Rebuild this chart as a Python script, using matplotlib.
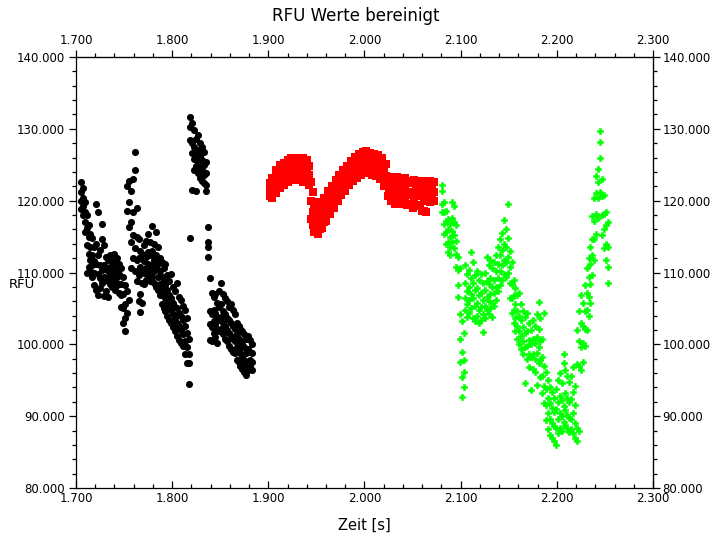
import matplotlib
matplotlib.use("Agg")
import matplotlib.pyplot as plt
from matplotlib.ticker import FixedLocator, FuncFormatter
import numpy as np

# ----- Daten (Zeit in s, RFU in Tausend) -----
# Messreihe 1 (schwarz): vier Werte je Zeitpunkt
black_t = [1705, 1707, 1709, 1711, 1713, 1715, 1717, 1719, 1721, 1723,
           1725, 1727, 1729, 1731, 1733, 1735, 1737, 1739, 1741, 1743,
           1745, 1747, 1749, 1751, 1753, 1755, 1757, 1759, 1761, 1763,
           1765, 1767, 1769, 1771, 1773, 1775, 1777, 1779, 1781, 1783,
           1785, 1787, 1789, 1791, 1793, 1795, 1797, 1799, 1801, 1803,
           1805, 1807, 1809, 1811, 1813, 1815, 1817, 1819, 1821, 1823,
           1825, 1827, 1829, 1831, 1833, 1835, 1837, 1839, 1841, 1843,
           1845, 1847, 1849, 1851, 1853, 1855, 1857, 1859, 1861, 1863,
           1865, 1867, 1869, 1871, 1873, 1875, 1877, 1879, 1881, 1883]
black_a = [122.6, 121.8, 119.8, 118.0, 116.6, 115.4, 114.8, 113.6, 119.6, 118.4,
           113.2, 116.8, 113.8, 112.2, 111.8, 112.4, 111.6, 112.6, 111.4, 112.0,
           111.2, 110.6, 109.4, 108.2, 122.0, 122.8, 121.4, 123.0, 126.8, 119.0,
           114.6, 113.0, 112.6, 113.8, 114.4, 115.4, 114.2, 116.5, 114.0, 115.7,
           113.6, 112.0, 111.4, 110.6, 111.2, 109.6, 108.8, 109.8, 108.0, 107.4,
           108.6, 106.6, 106.2, 105.4, 104.8, 103.6, 100.8, 131.6, 130.8, 129.8,
           128.6, 129.2, 128.0, 127.4, 126.8, 125.4, 116.4, 109.2, 107.2, 106.6,
           107.0, 105.8, 107.4, 108.6, 107.0, 106.4, 106.0, 105.2, 105.6, 104.8,
           104.2, 103.0, 102.6, 102.2, 101.8, 101.4, 100.8, 101.2, 100.6, 100.0]
black_b = [121.2, 120.4, 118.4, 116.2, 115.0, 113.6, 112.4, 111.6, 114.0, 112.4,
           111.0, 114.6, 111.0, 110.6, 110.2, 110.8, 110.4, 111.2, 110.0, 110.6,
           109.8, 108.4, 107.0, 105.6, 118.6, 119.8, 117.0, 118.4, 124.3, 115.0,
           112.0, 110.8, 110.2, 111.6, 112.2, 112.8, 112.4, 113.0, 111.8, 112.4,
           111.2, 110.2, 109.4, 108.8, 108.2, 107.6, 106.8, 106.4, 105.8, 105.2,
           105.0, 104.4, 104.0, 103.4, 102.6, 101.6, 98.6, 130.2, 128.0, 127.4,
           126.6, 127.0, 126.2, 125.6, 125.0, 123.8, 114.3, 104.6, 104.2, 104.8,
           104.4, 103.8, 105.2, 105.6, 104.6, 104.2, 103.6, 103.4, 103.0, 102.6,
           102.2, 101.4, 100.8, 100.4, 100.0, 99.6, 98.8, 99.4, 99.0, 98.8]
black_c = [120.0, 119.3, 117.0, 113.8, 112.6, 111.8, 111.0, 110.0, 111.2, 109.8,
           109.2, 110.4, 109.4, 109.0, 108.8, 109.6, 109.2, 109.8, 108.8, 109.4,
           108.4, 106.8, 105.0, 103.6, 107.4, 116.4, 114.2, 115.2, 113.4, 111.8,
           109.6, 107.0, 108.6, 110.0, 110.6, 111.2, 110.4, 111.0, 110.2, 110.8,
           109.4, 108.4, 107.8, 107.2, 106.4, 105.8, 105.2, 104.8, 104.2, 103.6,
           103.0, 102.6, 102.0, 101.4, 100.4, 99.6, 97.4, 128.4, 126.6, 125.8,
           124.8, 125.4, 124.6, 124.2, 123.6, 122.2, 113.6, 102.8, 102.4, 103.2,
           102.8, 102.2, 103.4, 103.8, 103.0, 102.6, 102.0, 101.6, 101.2, 100.8,
           100.4, 99.6, 99.2, 98.8, 98.4, 97.8, 97.2, 97.6, 97.8, 97.6]
black_d = [118.9, 118.0, 115.6, 109.9, 110.8, 110.2, 109.4, 108.2, 107.6, 106.9,
           107.8, 108.6, 106.7, 107.4, 106.6, 108.4, 108.0, 108.6, 107.6, 108.2,
           107.2, 105.2, 103.0, 101.8, 104.4, 106.2, 110.6, 112.0, 110.2, 108.8,
           106.0, 104.5, 105.8, 108.4, 109.0, 109.6, 108.8, 109.4, 108.6, 108.0,
           107.6, 106.8, 105.6, 105.0, 104.6, 104.0, 103.4, 103.0, 102.4, 101.8,
           101.2, 100.6, 100.2, 99.8, 98.6, 97.4, 94.5, 114.8, 121.5, 124.2,
           121.4, 123.8, 123.2, 122.8, 122.4, 121.3, 112.2, 100.6, 100.4, 101.6,
           101.0, 100.2, 101.8, 102.2, 101.4, 100.8, 100.4, 99.8, 99.4, 99.0,
           98.8, 97.8, 97.6, 97.0, 96.6, 96.2, 95.7, 96.4, 96.8, 96.4]

# Messreihe 2 (rot): drei Werte je Zeitpunkt
red_t = [1902, 1904, 1906, 1908, 1910, 1912, 1914, 1916, 1918, 1920,
         1922, 1924, 1926, 1928, 1930, 1932, 1934, 1936, 1938, 1940,
         1942, 1944, 1946, 1948, 1950, 1952, 1954, 1956, 1958, 1960,
         1962, 1964, 1966, 1968, 1970, 1972, 1974, 1976, 1978, 1980,
         1982, 1984, 1986, 1988, 1990, 1992, 1994, 1996, 1998, 2000,
         2002, 2004, 2006, 2008, 2010, 2012, 2014, 2016, 2018, 2020,
         2022, 2024, 2026, 2028, 2030, 2032, 2034, 2036, 2038, 2040,
         2042, 2044, 2046, 2048, 2050, 2052, 2054, 2056, 2058, 2060,
         2062, 2064, 2066, 2068, 2070, 2072]
red_a = [122.4, 123.2, 123.2, 124.2, 124.0, 124.9, 124.6, 125.3, 125.0, 125.6,
         125.3, 126.0, 125.6, 125.8, 125.6, 126.0, 125.4, 125.9, 125.5, 125.6,
         124.8, 122.6, 121.2, 119.6, 119.8, 118.4, 119.3, 119.2, 120.4, 120.2,
         121.3, 121.0, 122.0, 121.8, 122.9, 122.8, 123.6, 123.4, 124.3, 124.0,
         124.8, 124.6, 125.5, 125.4, 126.1, 125.8, 126.5, 126.2, 126.8, 126.4,
         126.9, 126.5, 126.7, 126.3, 126.5, 126.1, 126.3, 125.6, 125.9, 125.0,
         125.1, 123.2, 123.3, 122.9, 123.2, 122.6, 123.3, 122.9, 122.8, 122.6,
         123.2, 122.4, 122.7, 122.4, 122.6, 122.9, 122.2, 122.5, 122.8, 122.2,
         122.4, 122.8, 122.6, 122.7, 122.4, 122.6]
red_b = [121.4, 121.8, 122.2, 122.6, 123.0, 123.4, 123.6, 123.8, 124.0, 124.2,
         124.4, 124.6, 124.6, 124.4, 124.8, 124.6, 124.4, 124.2, 124.6, 124.2,
         123.6, 120.0, 118.4, 117.6, 117.2, 116.8, 117.4, 118.0, 118.4, 118.8,
         119.6, 120.0, 120.4, 120.8, 121.4, 121.8, 122.0, 122.4, 122.8, 123.0,
         123.4, 123.8, 124.0, 124.4, 124.6, 124.8, 125.0, 125.2, 125.4, 125.4,
         125.6, 125.4, 125.2, 125.4, 125.0, 125.2, 124.8, 124.6, 124.2, 123.8,
         123.4, 122.2, 121.8, 121.8, 121.6, 121.4, 121.6, 121.8, 121.2, 121.4,
         121.6, 121.2, 121.0, 121.2, 120.8, 121.2, 120.8, 120.6, 121.0, 120.6,
         120.2, 120.8, 121.6, 121.2, 121.4, 121.2]
red_c = [120.6, 120.4, 121.2, 121.0, 122.0, 121.8, 122.6, 122.2, 123.0, 122.6,
         123.4, 123.0, 123.5, 122.9, 123.8, 123.0, 123.4, 122.6, 123.6, 122.6,
         122.2, 117.4, 116.6, 115.6, 115.8, 115.3, 116.0, 116.2, 117.0, 117.2,
         118.4, 118.2, 119.2, 119.0, 120.2, 120.0, 121.0, 120.8, 121.8, 121.4,
         122.4, 122.2, 123.0, 122.8, 123.6, 123.2, 124.0, 123.6, 124.4, 123.8,
         124.6, 123.8, 124.2, 123.6, 124.0, 123.4, 123.8, 123.0, 123.0, 122.0,
         122.2, 120.6, 120.8, 120.0, 120.4, 119.6, 120.6, 120.2, 119.6, 120.2,
         120.0, 119.4, 119.6, 119.6, 119.0, 119.8, 119.2, 119.4, 119.4, 118.6,
         118.6, 118.4, 120.0, 119.8, 120.4, 120.0]

# Messreihe 3 (gruen): vier Werte je Zeitpunkt
green_t = [2081, 2083, 2085, 2087, 2089, 2091, 2093, 2095, 2097, 2099,
           2101, 2103, 2105, 2107, 2109, 2111, 2113, 2115, 2117, 2119,
           2121, 2123, 2125, 2127, 2129, 2131, 2133, 2135, 2137, 2139,
           2141, 2143, 2145, 2147, 2149, 2151, 2153, 2155, 2157, 2159,
           2161, 2163, 2165, 2167, 2169, 2171, 2173, 2175, 2177, 2179,
           2181, 2183, 2185, 2187, 2189, 2191, 2193, 2195, 2197, 2199,
           2201, 2203, 2205, 2207, 2209, 2211, 2213, 2215, 2217, 2219,
           2221, 2223, 2225, 2227, 2229, 2231, 2233, 2235, 2237, 2239,
           2241, 2243, 2245, 2247, 2249, 2251, 2253]
green_a = [122.2, 119.8, 118.6, 117.4, 116.8, 119.8, 119.2, 116.6, 112.2, 110.6,
           103.2, 101.6, 111.0, 109.8, 110.4, 112.9, 111.4, 109.6, 110.2, 109.0,
           109.8, 108.6, 110.0, 112.2, 111.0, 111.8, 110.6, 111.4, 112.4, 113.6,
           114.6, 115.5, 117.3, 116.0, 119.6, 113.0, 111.4, 109.0, 107.8, 106.8,
           107.1, 105.6, 104.6, 103.8, 104.4, 103.0, 102.0, 103.4, 102.6, 104.2,
           105.9, 103.6, 100.8, 104.3, 96.2, 95.0, 94.0, 93.4, 92.6, 93.8,
           95.0, 96.0, 94.6, 98.7, 96.4, 95.6, 94.8, 95.6, 96.8, 94.2,
           102.0, 104.6, 106.8, 105.8, 108.2, 110.6, 112.0, 113.6, 117.8, 120.4,
           123.4, 124.4, 129.7, 123.0, 120.8, 118.4, 117.0]
green_b = [121.3, 118.4, 117.2, 116.0, 115.0, 117.6, 117.0, 114.4, 110.4, 104.2,
           99.0, 97.8, 108.6, 107.4, 108.0, 109.2, 108.6, 107.6, 107.8, 106.8,
           107.2, 106.2, 107.6, 108.8, 108.4, 109.2, 108.0, 109.0, 110.2, 111.2,
           112.4, 113.2, 114.0, 113.6, 114.8, 110.8, 108.4, 106.8, 105.6, 104.6,
           104.0, 103.4, 102.4, 101.6, 101.8, 100.6, 100.0, 100.8, 100.2, 101.0,
           102.2, 100.4, 98.2, 97.0, 93.8, 92.6, 91.8, 91.2, 90.6, 91.0,
           92.0, 92.8, 92.2, 97.4, 93.2, 92.6, 92.0, 92.4, 93.4, 91.6,
           97.2, 100.4, 103.0, 102.6, 104.6, 107.2, 109.4, 111.2, 114.6, 117.2,
           121.0, 122.6, 128.2, 120.6, 118.2, 116.6, 113.6]
green_c = [119.6, 116.8, 115.6, 114.2, 113.6, 115.8, 115.2, 112.6, 108.2, 100.8,
           95.4, 96.2, 106.4, 105.6, 106.2, 107.0, 106.4, 105.4, 105.8, 104.8,
           105.2, 104.2, 105.4, 106.6, 106.0, 107.0, 105.8, 107.2, 108.0, 109.2,
           110.2, 111.0, 111.8, 111.4, 112.2, 108.6, 106.4, 104.8, 103.6, 102.6,
           101.8, 101.2, 100.4, 99.6, 99.8, 98.6, 98.2, 98.6, 98.0, 98.8,
           99.6, 97.8, 95.6, 94.2, 91.6, 90.4, 89.6, 89.0, 88.6, 88.4,
           89.6, 90.4, 90.0, 91.4, 90.8, 90.2, 89.8, 89.6, 90.4, 89.0,
           88.4, 97.0, 99.6, 100.2, 102.2, 104.8, 106.6, 108.4, 112.4, 114.6,
           118.2, 120.4, 126.0, 118.0, 116.0, 114.0, 110.8]
green_d = [118.4, 115.4, 114.0, 112.9, 112.4, 114.2, 113.4, 110.8, 106.6, 97.6,
           92.7, 94.0, 104.8, 103.8, 104.4, 105.0, 103.6, 103.2, 104.0, 103.0,
           103.4, 101.7, 103.6, 104.8, 104.2, 105.0, 103.8, 105.4, 106.2, 107.4,
           108.2, 109.0, 109.8, 109.4, 110.0, 106.4, 104.4, 103.0, 101.8, 100.8,
           100.0, 99.4, 98.6, 94.6, 98.0, 96.8, 93.6, 96.6, 96.2, 94.4,
           97.4, 95.4, 93.2, 91.8, 89.4, 88.2, 87.4, 87.0, 86.6, 86.0,
           87.6, 88.4, 88.0, 89.2, 88.8, 88.4, 87.8, 88.2, 87.6, 87.0,
           86.6, 88.0, 96.4, 97.6, 99.8, 102.0, 104.0, 105.8, 109.6, 111.8,
           115.4, 117.6, 121.2, 115.2, 113.4, 111.8, 108.5]

# Achsen-Raster (nur innerhalb des Wertebereichs)
x_major = [1700, 1800, 1900, 2000, 2100, 2200, 2300]
y_major = [80000, 90000, 100000, 110000, 120000, 130000, 140000]
x_minor = np.arange(1700, 2301, 20)
y_minor = np.arange(80000, 140001, 2000)


def fmt_de(v, pos):
    # Tausenderpunkt wie im Original
    return f"{v:,.0f}".replace(",", ".")


plt.rcParams["font.family"] = "DejaVu Sans"
fig = plt.figure(figsize=(7.11, 5.34), dpi=100)
ax = fig.add_axes([0.1069, 0.0861, 0.8115, 0.8072])

for ys in (black_a, black_b, black_c, black_d):
    ax.scatter(black_t, np.array(ys) * 1000, s=26, marker="o", color="black",
               linewidths=0, zorder=3)
for ys in (red_a, red_b, red_c):
    ax.scatter(red_t, np.array(ys) * 1000, s=26, marker="s", color="#ff0000",
               linewidths=0, zorder=3)
for ys in (green_a, green_b, green_c, green_d):
    ax.scatter(green_t, np.array(ys) * 1000, s=24, marker="P", color="#00ff00",
               edgecolors="#00ff00", linewidths=0.4, zorder=3)

ax.set_xlim(1700, 2300)
ax.set_ylim(80000, 140000)


def setup_x(axis):
    axis.set_major_locator(FixedLocator(x_major))
    axis.set_minor_locator(FixedLocator(x_minor))
    axis.set_major_formatter(FuncFormatter(fmt_de))


def setup_y(axis):
    axis.set_major_locator(FixedLocator(y_major))
    axis.set_minor_locator(FixedLocator(y_minor))
    axis.set_major_formatter(FuncFormatter(fmt_de))


setup_x(ax.xaxis)
setup_y(ax.yaxis)

for sp in ax.spines.values():
    sp.set_linewidth(0.9)

ax.tick_params(axis="x", which="major", direction="in", length=5, width=0.9,
               labelsize=8.5, pad=3)
ax.tick_params(axis="x", which="minor", direction="in", length=3, width=0.9)
ax.tick_params(axis="y", which="major", direction="out", length=5, width=0.9,
               labelsize=8.5, pad=3)
ax.tick_params(axis="y", which="minor", direction="out", length=3, width=0.9)

# obere und rechte Achse mit eigenen Beschriftungen
top = ax.secondary_xaxis("top")
setup_x(top.xaxis)
top.tick_params(which="major", direction="out", length=5, width=0.9,
                labelsize=8.5, pad=2)
top.tick_params(which="minor", direction="out", length=3, width=0.9)

right = ax.secondary_yaxis("right")
setup_y(right.yaxis)
right.tick_params(which="major", direction="out", length=5, width=0.9,
                  labelsize=8.5, pad=2)
right.tick_params(which="minor", direction="out", length=3, width=0.9)

ax.set_xlabel("Zeit [s]", fontsize=10.5, labelpad=9)
fig.text(22 / 711, 1 - 284 / 534, "RFU", fontsize=9.5, ha="center", va="center")
fig.text(0.5, 1 - 16 / 534, "RFU Werte bereinigt", fontsize=12, ha="center",
         va="center")

fig.savefig("out.png", dpi=100)
